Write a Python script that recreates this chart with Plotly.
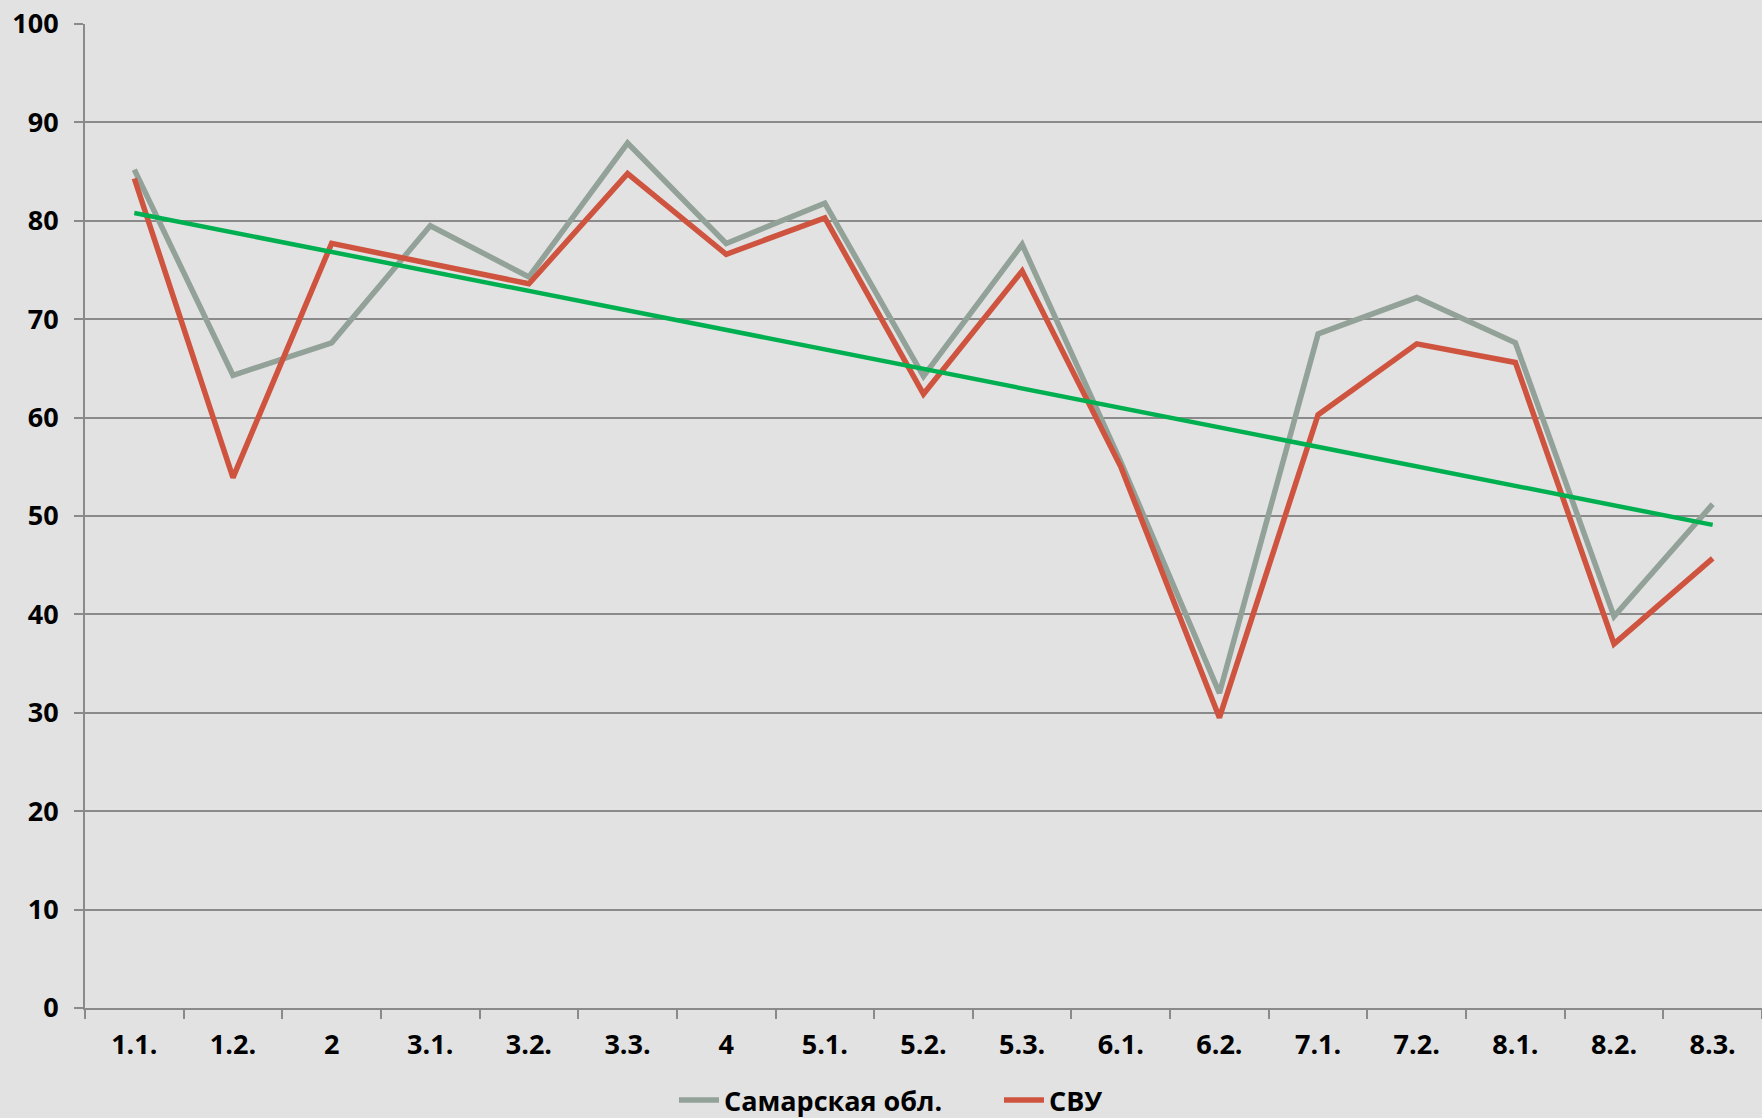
import plotly.graph_objects as go

categories = ["1.1.", "1.2.", "2", "3.1.", "3.2.", "3.3.", "4", "5.1.", "5.2.",
              "5.3.", "6.1.", "6.2.", "7.1.", "7.2.", "8.1.", "8.2.", "8.3."]

samara = [85.2, 64.3, 67.6, 79.5, 74.3, 87.9, 77.7, 81.8, 64.2,
          77.6, 55.5, 32.0, 68.5, 72.2, 67.6, 39.8, 51.2]
svu = [84.3, 53.9, 77.7, 75.6, 73.6, 84.8, 76.6, 80.3, 62.4,
       74.9, 55.0, 29.5, 60.3, 67.5, 65.6, 37.0, 45.7]

# linear trend line, ends
trend_x = [categories[0], categories[-1]]
trend_y = [80.8, 49.1]

FONT = "Open Sans"
GRID = "#8a8a8a"

fig = go.Figure()
fig.add_scatter(x=categories, y=samara, mode="lines", name="Самарская обл.",
                line=dict(color="#93a299", width=5.5))
fig.add_scatter(x=categories, y=svu, mode="lines", name="СВУ",
                line=dict(color="#cf543f", width=5.5))
fig.add_scatter(x=trend_x, y=trend_y, mode="lines", showlegend=False,
                line=dict(color="#00b050", width=4.5))

fig.update_layout(
    width=1762, height=1118,
    margin=dict(l=85, r=0, t=24, b=110, autoexpand=False),
    paper_bgcolor="#e2e2e2", plot_bgcolor="#e2e2e2",
    font=dict(family=FONT, size=27, color="#000000", weight="bold"),
    legend=dict(orientation="h", x=0.545, xanchor="center", y=-0.094, yanchor="middle",
                font=dict(family=FONT, size=27, weight="bold"), itemwidth=40,
                entrywidth=270, tracegroupgap=0, borderwidth=0,
                bgcolor="rgba(0,0,0,0)"),
)
fig.update_xaxes(
    type="category", range=[-0.5, 16.5], showgrid=False,
    showline=True, linecolor=GRID, linewidth=2,
    ticks="outside", ticklen=9, tickwidth=2, tickcolor=GRID,
    tickson="boundaries", ticklabelstandoff=12,
)
fig.update_yaxes(
    range=[0, 100], dtick=10, showgrid=True, gridcolor=GRID, gridwidth=2,
    showline=True, linecolor=GRID, linewidth=2, zeroline=False,
    ticks="outside", ticklen=9, tickwidth=2, tickcolor=GRID,
    ticklabelstandoff=10,
)

fig.write_html("out.html", config={"displayModeBar": False},
               post_script="document.body.style.margin='0';")
